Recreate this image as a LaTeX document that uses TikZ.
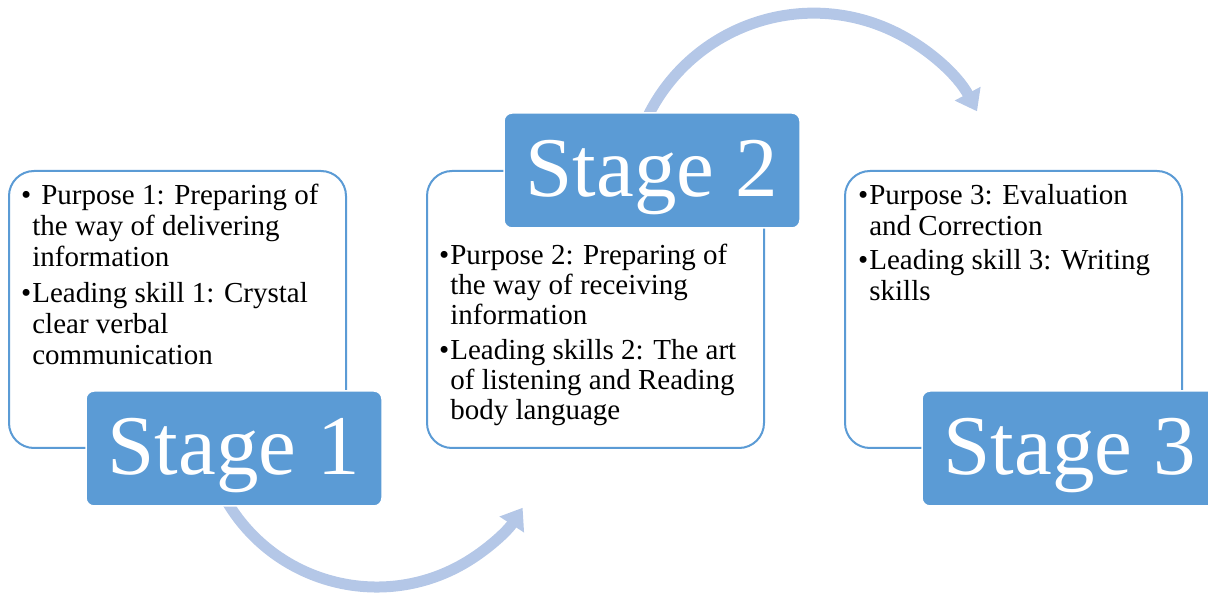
\documentclass[tikz,border=0pt]{standalone}
\usepackage{fontspec}
\setmainfont{Liberation Serif}
\usetikzlibrary{arrows.meta,backgrounds}
\definecolor{stageblue}{HTML}{5B9BD5}
\definecolor{arrowblue}{HTML}{B4C7E7}

\begin{document}
\begin{tikzpicture}[x=1pt,y=1pt,
	panel/.style={draw=stageblue,line width=2pt,fill=white,rounded corners=25pt,minimum width=337pt,minimum height=277pt,inner sep=0pt},
	stagebox/.style={fill=stageblue,draw=white,line width=1.5pt,rounded corners=8pt,minimum width=296pt,minimum height=115pt,inner sep=0pt,text=white,font=\fontsize{85}{85}\selectfont,text height=60pt,text depth=7pt},
	flow/.style={arrowblue,line width=11pt,-{Triangle[width=28pt,length=20pt]}},
	bullets/.style={anchor=base west,inner sep=0pt,font=\fontsize{29}{#1}\selectfont}]
		\useasboundingbox (0,0) rectangle (1208,592);
		\node[panel] (panelA) at (177.5,282.5) {};
		\node[panel] (panelB) at (595.5,282.5) {};
		\node[panel] (panelC) at (1013.5,282.5) {};
		\node[stagebox] (stageA) at (234,143.5) {Stage 1};
		\node[stagebox] (stageB) at (652,421.5) {Stage 2};
		\node[stagebox] (stageC) at (1070,143.5) {Stage 3};
		\node[bullets=31] (textA) at (21,387) {\begin{tabular}[t]{@{}l@{\hspace{1pt}}l@{}}
			\textbullet & \hspace{9pt}Purpose 1: Preparing of\\
			 & the way of delivering\\
			 & information\\[5pt]
			\textbullet & Leading skill 1: Crystal\\
			 & clear verbal\\
			 & communication
		\end{tabular}};
		\node[bullets=30] (textB) at (439,327) {\begin{tabular}[t]{@{}l@{\hspace{1pt}}l@{}}
			\textbullet & Purpose 2: Preparing of\\
			 & the way of receiving\\
			 & information\\[5pt]
			\textbullet & Leading skills 2: The art\\
			 & of listening and Reading\\
			 & body language
		\end{tabular}};
		\node[bullets=31] (textC) at (858,387) {\begin{tabular}[t]{@{}l@{\hspace{1pt}}l@{}}
			\textbullet & Purpose 3: Evaluation\\
			 & and Correction\\[3pt]
			\textbullet & Leading skill 3: Writing\\
			 & skills
		\end{tabular}};
		\begin{scope}[on background layer]
			\draw[flow] ([xshift=-8pt,yshift=6.75pt]stageA.south) arc[start angle=210,end angle=327,radius=174pt];
			\draw[flow] ([xshift=-6pt,yshift=-7.75pt]stageB.north) arc[start angle=155,end angle=28,radius=185pt];
		\end{scope}
	\end{tikzpicture}
\end{document}
